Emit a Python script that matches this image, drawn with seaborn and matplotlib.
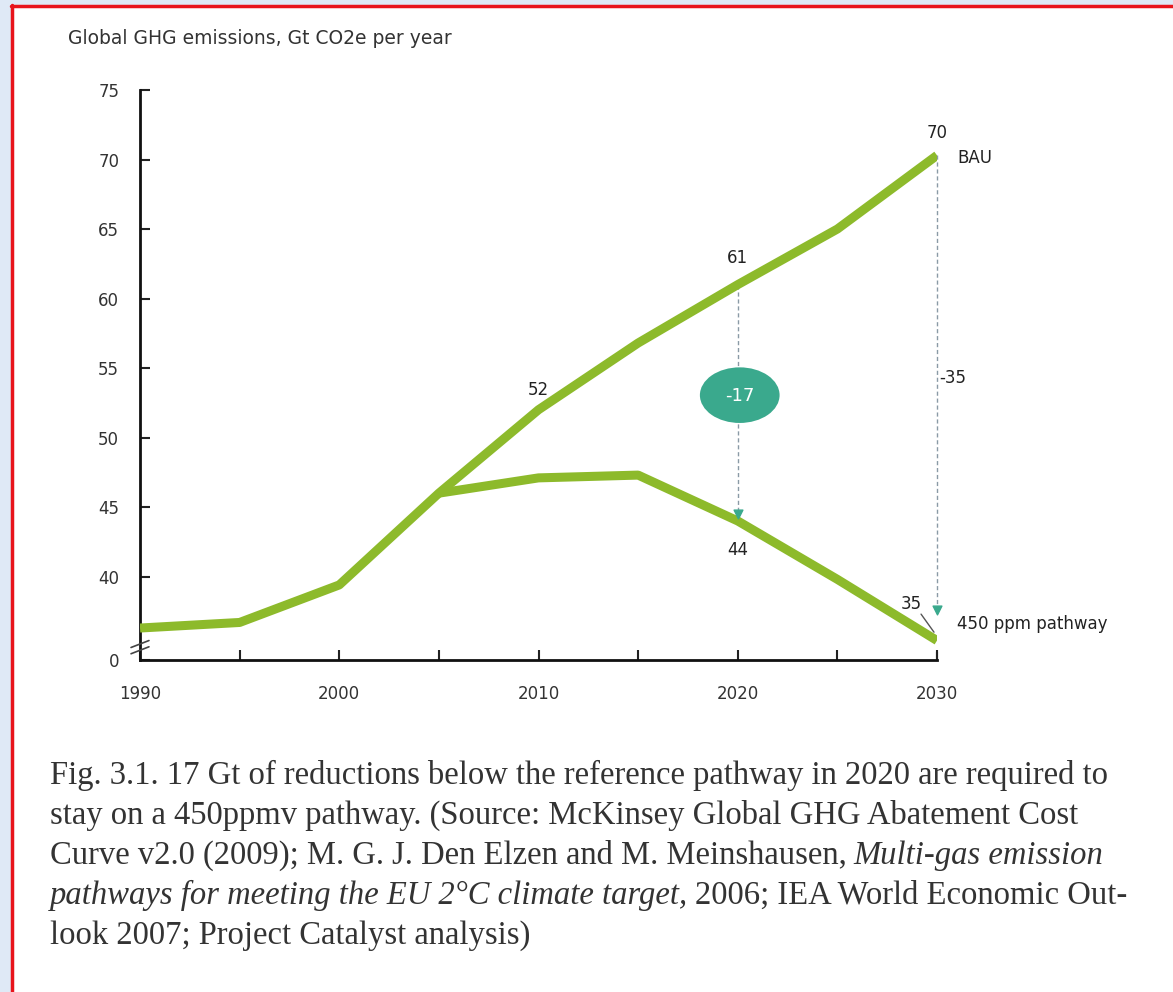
import numpy as np
import pandas as pd
import seaborn as sns
import matplotlib.pyplot as plt
from matplotlib.patches import Ellipse, Rectangle
from matplotlib.lines import Line2D

# values
years = [1990, 1995, 2000, 2005, 2010, 2015, 2020, 2025, 2030]
bau = [36.3, 36.7, 39.4, 46.0, 52.0, 56.8, 61.0, 65.0, 70.3]
path_years = [2005, 2010, 2015, 2020, 2025, 2030]
path_450 = [46.0, 47.1, 47.3, 44.0, 39.8, 35.4]

y_ticks = [34, 40, 45, 50, 55, 60, 65, 70, 75]
y_tick_labels = ['0', '40', '45', '50', '55', '60', '65', '70', '75']
x_ticks = [1990, 1995, 2000, 2005, 2010, 2015, 2020, 2025, 2030]
x_tick_labels = ['1990', '', '2000', '', '2010', '', '2020', '', '2030']

green = '#8dba2b'
teal = '#3aa98d'

sns.set_style('white')
plt.rcParams['font.family'] = ['DejaVu Sans']

fig = plt.figure(figsize=(11.73, 9.92), dpi=100)
fig.patch.set_facecolor('#dfe9f6')
W, H = 1173, 992
fig.patches.append(Rectangle((12 / W, 0), 1, 1 - 6 / H, transform=fig.transFigure,
                             facecolor='white', edgecolor='none', zorder=-1))
fig.lines.append(Line2D([12 / W, 12 / W], [0, 1 - 5 / H], transform=fig.transFigure,
                        color='#e8141c', lw=2.5))
fig.lines.append(Line2D([11 / W, 1], [1 - 5.5 / H, 1 - 5.5 / H], transform=fig.transFigure,
                        color='#e8141c', lw=2.5))

ax = fig.add_axes([140 / W, 1 - 660 / H, 797 / W, 570 / H])
ax.set_facecolor('none')

df_bau = pd.DataFrame({'year': years, 'value': bau})
df_450 = pd.DataFrame({'year': path_years, 'value': path_450})
sns.lineplot(data=df_bau, x='year', y='value', ax=ax, color=green, lw=6.5,
             solid_capstyle='butt', zorder=3)
sns.lineplot(data=df_450, x='year', y='value', ax=ax, color=green, lw=6.5,
             solid_capstyle='butt', zorder=3)

ax.set_xlim(1990, 2030)
ax.set_ylim(34, 75)
ax.set_xlabel('')
ax.set_ylabel('')
ax.set_xticks(x_ticks)
ax.set_xticklabels(x_tick_labels)
ax.set_yticks(y_ticks)
ax.set_yticklabels(y_tick_labels)
ax.tick_params(axis='both', direction='in', length=7, width=1.5, color='#222222',
               labelsize=12, labelcolor='#333333', left=True, bottom=True)
ax.tick_params(axis='x', pad=18)
ax.tick_params(axis='y', pad=15)
for s in ['top', 'right']:
    ax.spines[s].set_visible(False)
for s in ['left', 'bottom']:
    ax.spines[s].set_color('#111111')
    ax.spines[s].set_linewidth(2)
# tick at the end of the x axis
ax.plot([2030, 2030], [34, 34.55], color='#222222', lw=1.5, clip_on=False)

# axis break marks
for dy in [0, 0.45]:
    ax.plot([1989.55, 1990.45], [34.45 + dy, 34.95 + dy], color='#444444', lw=1.2,
            clip_on=False, zorder=4)

# reduction arrows
ax.plot([2020, 2020], [61, 44.4], color='#8a9aa6', lw=1, ls=(0, (3, 2)), zorder=2,
        clip_on=False)
ax.plot([2030, 2030], [70.3, 37.6], color='#8a9aa6', lw=1, ls=(0, (3, 2)), zorder=2,
        clip_on=False)
ax.scatter([2020, 2030], [44.5, 37.6], marker='v', s=40, color=teal, zorder=4,
           clip_on=False)
ax.add_patch(Ellipse((2020.1, 53.05), 4.0, 4.0, facecolor=teal, edgecolor='none', zorder=5))
ax.text(2020.1, 53.0, '-17', color='white', fontsize=13, ha='center', va='center', zorder=6)
ax.text(2030.1, 54.3, '-35', fontsize=12, color='#222222', ha='left', va='center')

# point labels
lab = dict(fontsize=12, color='#222222', ha='center', va='center')
ax.text(2010, 53.4, '52', **lab)
ax.text(2020, 62.9, '61', **lab)
ax.text(2030, 71.9, '70', **lab)
ax.text(2020, 41.9, '44', **lab)
ax.text(2028.7, 38.0, '35', **lab)
ax.plot([2029.2, 2029.85], [37.3, 36.0], color='#555555', lw=1)
ax.text(2031.0, 70.1, 'BAU', fontsize=12, color='#222222', ha='left', va='center')
ax.text(2031.0, 36.6, '450 ppm pathway', fontsize=12, color='#222222', ha='left', va='center')

fig.text(68 / W, 1 - 38 / H, 'Global GHG emissions, Gt CO2e per year', fontsize=13.5,
         color='#333333', ha='left', va='center')

# caption
cap = dict(fontsize=23.5, color='#333333', family=['Liberation Serif', 'DejaVu Serif'],
           va='baseline')
x0 = 50 / W
fig.text(x0, 1 - 784 / H, 'Fig. 3.1. 17 Gt of reductions below the reference pathway in 2020 are required to', **cap)
fig.text(x0, 1 - 824 / H, 'stay on a 450ppmv pathway. (Source: McKinsey Global GHG Abatement Cost', **cap)
a3 = fig.text(x0, 1 - 864 / H, 'Curve v2.0 (2009); M. G. J. Den Elzen and M. Meinshausen,', **cap)
b3 = fig.text(x0, 1 - 864 / H, 'Multi-gas emission', style='italic', **cap)
a4 = fig.text(x0, 1 - 904 / H, 'pathways for meeting the EU 2°C climate target,', style='italic', **cap)
b4 = fig.text(x0, 1 - 904 / H, '2006; IEA World Economic Out-', **cap)
fig.text(x0, 1 - 944 / H, 'look 2007; Project Catalyst analysis)', **cap)

# put the second part of the mixed-style lines right after the first part
fig.canvas.draw()
r = fig.canvas.get_renderer()
for first, second in [(a3, b3), (a4, b4)]:
    bb = first.get_window_extent(renderer=r)
    second.set_x((bb.x1 + 7) / fig.bbox.width)

fig.savefig('out.png', dpi=100)
